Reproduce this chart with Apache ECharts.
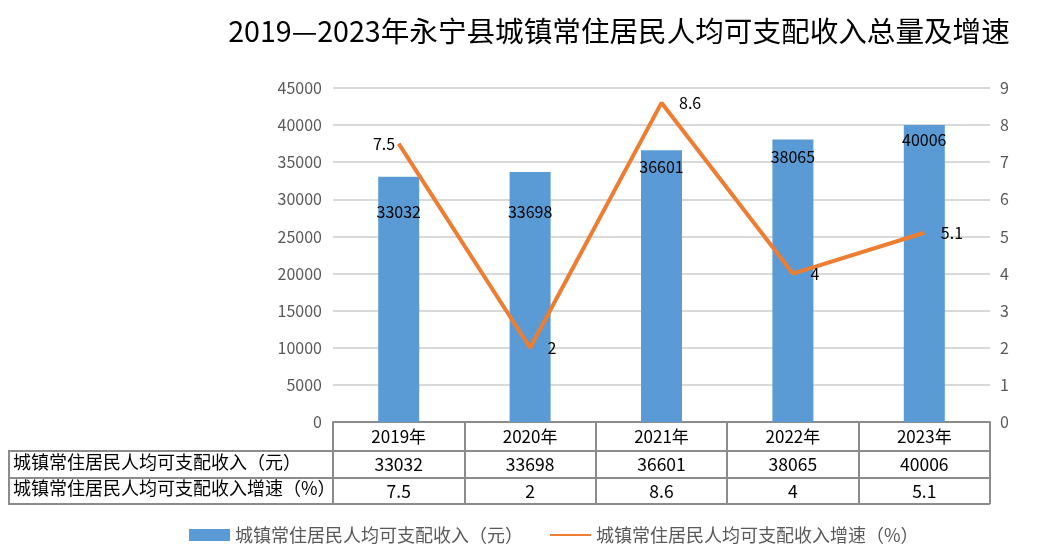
<!DOCTYPE html>
<html>
<head>
<meta charset="utf-8">
<script src="https://cdn.jsdelivr.net/npm/echarts@6/dist/echarts.min.js"></script>
<style>
  html, body { margin: 0; padding: 0; background: #fff; }
  #main { width: 1050px; height: 555px; }
</style>
</head>
<body>
<div id="main"></div>
<script>
// 数据
var years = ['2019年', '2020年', '2021年', '2022年', '2023年'];
var income = [33032, 33698, 36601, 38065, 40006];
var growth = [7.5, 2, 8.6, 4, 5.1];
var incomeName = '城镇常住居民人均可支配收入（元）';
var growthName = '城镇常住居民人均可支配收入增速（%）';

// 柱子标签离柱顶的距离（Excel 自动避让，逐个调整）
var barLabelDist = [27, 32, 9, 9, 7];
// 折线标签位置与间距
var lineLabelPos = ['left', 'right', 'right', 'right', 'right'];
var lineLabelDist = [3, 17, 17, 17, 16];

var FONT = '"Noto Sans CJK SC", "Noto Sans", sans-serif';
var GRID_L = 333, GRID_R = 990, AXIS_Y = 422;

var chart = echarts.init(document.getElementById('main'));

var barData = income.map(function (v, i) {
    return {
        value: v,
        label: { position: 'insideTop', distance: barLabelDist[i] }
    };
});
var lineData = growth.map(function (v, i) {
    return { value: v, label: { position: lineLabelPos[i], distance: lineLabelDist[i] } };
});

var option = {
    backgroundColor: '#fff',
    title: {
        text: '2019—2023年永宁县城镇常住居民人均可支配收入总量及增速',
        left: 614,
        textAlign: 'center',
        top: 12,
        textStyle: { fontFamily: FONT, fontSize: 28.6, fontWeight: 'normal', color: '#000' }
    },
    legend: {
        bottom: 6,
        left: 184,
        itemGap: 26,
        itemWidth: 41,
        itemHeight: 12,
        formatter: '{t|{name}}',
        textStyle: {
            fontFamily: FONT, fontSize: 18, color: '#595959',
            rich: { t: { fontFamily: FONT, fontSize: 18, color: '#595959' } }
        },
        data: [
            { name: incomeName, icon: 'rect' },
            { name: growthName, itemStyle: { opacity: 0 } }
        ]
    },
    grid: { left: GRID_L, right: 1050 - GRID_R, top: 88, bottom: 555 - AXIS_Y },
    xAxis: {
        type: 'category',
        data: years,
        axisLine: { lineStyle: { color: '#8c8c8c', width: 2 } },
        axisTick: { show: true, interval: 0, length: 82, lineStyle: { color: '#8c8c8c', width: 2 } },
        axisLabel: {
            interval: 0,
            margin: 1,
            fontFamily: FONT,
            fontSize: 17,
            color: '#000',
            formatter: function (val, idx) {
                return '{y|' + val + '}\n{v|' + income[idx] + '}\n{g|' + growth[idx] + '}';
            },
            rich: {
                y: { fontFamily: FONT, fontSize: 17, color: '#000', lineHeight: 28 },
                v: { fontFamily: FONT, fontSize: 17.5, color: '#000', lineHeight: 27 },
                g: { fontFamily: FONT, fontSize: 17.5, color: '#000', lineHeight: 26 }
            }
        }
    },
    yAxis: [{
        type: 'value',
        min: 0,
        max: 45000,
        interval: 5000,
        axisLine: { show: false },
        axisTick: { show: false },
        axisLabel: {
            fontFamily: FONT, fontSize: 16, color: '#595959', margin: 11,
            formatter: function (v) { return String(v); }
        },
        splitLine: { lineStyle: { color: '#d9d9d9', width: 2 } }
    }, {
        type: 'value',
        min: 0,
        max: 9,
        interval: 1,
        axisLine: { show: false },
        axisTick: { show: false },
        axisLabel: { fontFamily: FONT, fontSize: 16, color: '#595959', margin: 10 },
        splitLine: { show: false }
    }],
    graphic: [
        // 表格横线
        { type: 'line', shape: { x1: 8, y1: 451, x2: GRID_R, y2: 451 }, style: { stroke: '#8c8c8c', lineWidth: 2 } },
        { type: 'line', shape: { x1: 8, y1: 478, x2: GRID_R, y2: 478 }, style: { stroke: '#8c8c8c', lineWidth: 2 } },
        { type: 'line', shape: { x1: 8, y1: 504, x2: GRID_R, y2: 504 }, style: { stroke: '#8c8c8c', lineWidth: 2 } },
        // 表格左竖线
        { type: 'line', shape: { x1: 9, y1: 451, x2: 9, y2: 504 }, style: { stroke: '#8c8c8c', lineWidth: 2 } },
        // 表头文字
        { type: 'text', left: 13, top: 453, style: { text: incomeName, fontFamily: FONT, fontSize: 18, fill: '#000' } },
        { type: 'text', left: 13, top: 479, style: { text: growthName, fontFamily: FONT, fontSize: 18, fill: '#000' } }
    ],
    series: [{
        name: incomeName,
        type: 'bar',
        barWidth: 41,
        yAxisIndex: 0,
        itemStyle: { color: '#5b9bd5' },
        label: { show: true, fontFamily: FONT, fontSize: 16, color: '#000' },
        data: barData,
        z: 2
    }, {
        name: growthName,
        type: 'line',
        yAxisIndex: 1,
        symbol: 'circle',
        symbolSize: 1,
        showSymbol: true,
        lineStyle: { color: '#ed7d31', width: 4 },
        itemStyle: { color: 'rgba(0,0,0,0)' },
        label: { show: true, fontFamily: FONT, fontSize: 16, color: '#000' },
        data: lineData,
        z: 3
    }],
    animation: false
};

chart.setOption(option);
</script>
</body>
</html>
